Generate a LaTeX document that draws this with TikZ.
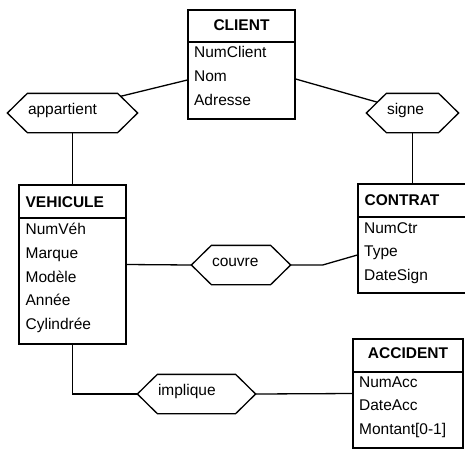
\documentclass[tikz,border=0pt]{standalone}
\usepackage{fontspec}
\setmainfont{Liberation Sans}
\usetikzlibrary{calc}

\tikzset{
  entity/.style={draw, rectangle, inner sep=0pt},
  relation/.style={rectangle, inner sep=0pt, minimum height=38pt},
  title/.style={inner sep=0pt, execute at begin node=\bfseries},
  attr/.style={anchor=base west, inner sep=0pt},
}

\begin{document}
\begin{tikzpicture}[x=1pt, y=-1pt, line width=1.3pt,
    every node/.style={font=\fontsize{15.5}{18}\selectfont}]
  \useasboundingbox (0,0) rectangle (465,451);

  % entities
  \node[entity, minimum width=107pt, minimum height=109pt] (client) at (241.5,64.5) {};
  \draw (client.west |- 0,42) -- (client.east |- 0,42);
  \node[title, anchor=base] (clientT) at (241.5,30.5) {CLIENT};
  \foreach \a [count=\i] in {NumClient, Nom, Adresse}
    \node[attr] (client\i) at ({193.5},{57.5+23.8*(\i-1)}) {\a};

  \node[entity, minimum width=107pt, minimum height=159pt] (vehicule) at (72.5,264.5) {};
  \draw (vehicule.west |- 0,218) -- (vehicule.east |- 0,218);
  \node[title, anchor=base west] (vehiculeT) at (25,207.3) {VEHICULE};
  \foreach \a [count=\i] in {NumVéh, Marque, Modèle, Année, Cylindrée}
    \node[attr] (vehicule\i) at ({25},{234.7+23.7*(\i-1)}) {\a};

  \node[entity, minimum width=114pt, minimum height=109pt] (contrat) at (415,238.5) {};
  \draw (contrat.west |- 0,217) -- (contrat.east |- 0,217);
  \node[title, anchor=base west] (contratT) at (364,205) {CONTRAT};
  \foreach \a [count=\i] in {NumCtr, Type, DateSign}
    \node[attr] (contrat\i) at ({363.5},{233+23.7*(\i-1)}) {\a};

  \node[entity, minimum width=110pt, minimum height=109pt] (accident) at (408,393.5) {};
  \draw (accident.west |- 0,372) -- (accident.east |- 0,372);
  \node[title, anchor=base] (accidentT) at (408,358) {ACCIDENT};
  \foreach \a [count=\i] in {NumAcc, DateAcc, Montant[0-1]}
    \node[attr] (accident\i) at ({358.5},{387+23.8*(\i-1)}) {\a};

  % relations
  \node[relation, minimum width=129pt] (app) at (72.5,113) {};
  \node[relation, minimum width=91pt] (sig) at (412.5,113) {};
  \node[relation, minimum width=98pt] (cou) at (241,265) {};
  \node[relation, minimum width=117pt] (imp) at (196.5,394) {};
  \foreach \r in {app, sig, cou, imp}
    \draw (\r.west) -- ([xshift=20pt]\r.north west) -- ([xshift=-20pt]\r.north east)
      -- (\r.east) -- ([xshift=-20pt]\r.south east) -- ([xshift=20pt]\r.south west) -- cycle;
  \node[attr] (appT) at ([xshift=20pt, yshift=-1.5pt]app.west) {appartient};
  \node[attr] (sigT) at ([xshift=20pt, yshift=-1.5pt]sig.west) {signe};
  \node[attr] (couT) at ([xshift=20pt, yshift=-1.5pt]cou.west) {couvre};
  \node[attr] (impT) at ([xshift=20pt, yshift=-1.5pt]imp.west) {implique};

  % links
  \draw ($(app.east)!0.85!([xshift=-20pt]app.north east)$) -- ([yshift=-15.5pt]client.west);
  \draw ([yshift=-14.5pt]client.east) -- ($(sig.west)!0.55!([xshift=20pt]sig.north west)$);
  \draw (app.south) -- (vehicule.north);
  \draw (sig.south) -- (sig.south |- contrat.north);
  \draw (vehicule.east) -- (cou.west);
  \draw (cou.east) -- ++(32,0) -- ([yshift=-16.5pt]contrat.west);
  \draw (vehicule.south) |- (imp.west);
  \draw (imp.east) -- (accident.west);
\end{tikzpicture}
\end{document}
